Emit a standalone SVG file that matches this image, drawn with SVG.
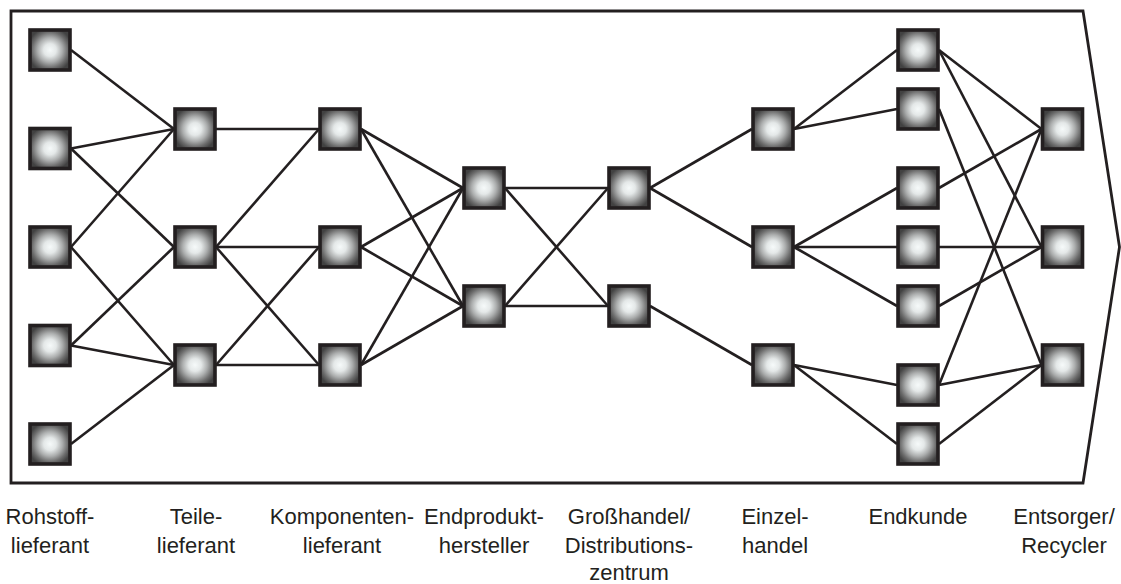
<svg xmlns="http://www.w3.org/2000/svg" xmlns:xlink="http://www.w3.org/1999/xlink" width="1121" height="584" viewBox="0 0 1121 584">
<style>
.frame{fill:none;stroke:#231f20;stroke-width:2.8;stroke-linejoin:miter}
.conn line{stroke:#231f20;stroke-width:2.6;stroke-linecap:butt}
.lbl{font-family:"Liberation Sans",Arial,Helvetica,sans-serif;font-size:22px;fill:#231f20;text-anchor:middle}
</style>
<defs>
<radialGradient id="gGlow" cx="0.5" cy="0.5" r="0.56">
<stop offset="0" stop-color="#f6fafa"/>
<stop offset="0.28" stop-color="#e4e8e8"/>
<stop offset="0.55" stop-color="#acaeae"/>
<stop offset="0.8" stop-color="#6c6c6c"/>
<stop offset="1" stop-color="#424242"/>
</radialGradient>
<g id="box">
<rect x="-20" y="-20" width="40" height="40" fill="url(#gGlow)" stroke="#231f20" stroke-width="3.6"/>
</g>
</defs>
<rect width="1121" height="584" fill="#ffffff"/>
<path class="frame" d="M11,11H1083L1119.5,247L1083,483H11Z"/>
<g id="connectors" class="conn">
<line x1="71" y1="50" x2="174" y2="129"/>
<line x1="71" y1="148.5" x2="174" y2="129"/>
<line x1="71" y1="148.5" x2="174" y2="247"/>
<line x1="71" y1="247" x2="174" y2="129"/>
<line x1="71" y1="247" x2="174" y2="365"/>
<line x1="71" y1="345.5" x2="174" y2="247"/>
<line x1="71" y1="345.5" x2="174" y2="365"/>
<line x1="71" y1="444" x2="174" y2="365"/>
<line x1="216" y1="129" x2="319" y2="129"/>
<line x1="216" y1="247" x2="319" y2="129"/>
<line x1="216" y1="247" x2="319" y2="247"/>
<line x1="216" y1="247" x2="319" y2="365"/>
<line x1="216" y1="365" x2="319" y2="247"/>
<line x1="216" y1="365" x2="319" y2="365"/>
<line x1="361" y1="129" x2="463" y2="188"/>
<line x1="361" y1="129" x2="463" y2="306"/>
<line x1="361" y1="247" x2="463" y2="188"/>
<line x1="361" y1="247" x2="463" y2="306"/>
<line x1="361" y1="365" x2="463" y2="188"/>
<line x1="361" y1="365" x2="463" y2="306"/>
<line x1="505" y1="188" x2="608" y2="188"/>
<line x1="505" y1="188" x2="608" y2="306"/>
<line x1="505" y1="306" x2="608" y2="188"/>
<line x1="505" y1="306" x2="608" y2="306"/>
<line x1="650" y1="188" x2="752" y2="129"/>
<line x1="650" y1="188" x2="752" y2="247"/>
<line x1="650" y1="306" x2="752" y2="365"/>
<line x1="794" y1="129" x2="897" y2="50"/>
<line x1="794" y1="129" x2="897" y2="109"/>
<line x1="794" y1="247" x2="897" y2="188"/>
<line x1="794" y1="247" x2="897" y2="247"/>
<line x1="794" y1="247" x2="897" y2="306"/>
<line x1="794" y1="365" x2="897" y2="385"/>
<line x1="794" y1="365" x2="897" y2="444"/>
<line x1="939" y1="50" x2="1041.5" y2="129"/>
<line x1="939" y1="50" x2="1041.5" y2="247"/>
<line x1="939" y1="109" x2="1041.5" y2="365"/>
<line x1="939" y1="188" x2="1041.5" y2="129"/>
<line x1="939" y1="247" x2="1041.5" y2="247"/>
<line x1="939" y1="306" x2="1041.5" y2="247"/>
<line x1="939" y1="385" x2="1041.5" y2="129"/>
<line x1="939" y1="385" x2="1041.5" y2="365"/>
<line x1="939" y1="444" x2="1041.5" y2="365"/>
</g>
<g id="n-rohstoff-1"><use xlink:href="#box" href="#box" x="50" y="50"/></g>
<g id="n-rohstoff-2"><use xlink:href="#box" href="#box" x="50" y="148.5"/></g>
<g id="n-rohstoff-3"><use xlink:href="#box" href="#box" x="50" y="247"/></g>
<g id="n-rohstoff-4"><use xlink:href="#box" href="#box" x="50" y="345.5"/></g>
<g id="n-rohstoff-5"><use xlink:href="#box" href="#box" x="50" y="444"/></g>
<g id="n-teile-1"><use xlink:href="#box" href="#box" x="195" y="129"/></g>
<g id="n-teile-2"><use xlink:href="#box" href="#box" x="195" y="247"/></g>
<g id="n-teile-3"><use xlink:href="#box" href="#box" x="195" y="365"/></g>
<g id="n-komp-1"><use xlink:href="#box" href="#box" x="340" y="129"/></g>
<g id="n-komp-2"><use xlink:href="#box" href="#box" x="340" y="247"/></g>
<g id="n-komp-3"><use xlink:href="#box" href="#box" x="340" y="365"/></g>
<g id="n-endprodukt-1"><use xlink:href="#box" href="#box" x="484" y="188"/></g>
<g id="n-endprodukt-2"><use xlink:href="#box" href="#box" x="484" y="306"/></g>
<g id="n-gross-1"><use xlink:href="#box" href="#box" x="629" y="188"/></g>
<g id="n-gross-2"><use xlink:href="#box" href="#box" x="629" y="306"/></g>
<g id="n-einzel-1"><use xlink:href="#box" href="#box" x="773" y="129"/></g>
<g id="n-einzel-2"><use xlink:href="#box" href="#box" x="773" y="247"/></g>
<g id="n-einzel-3"><use xlink:href="#box" href="#box" x="773" y="365"/></g>
<g id="n-endkunde-1"><use xlink:href="#box" href="#box" x="918" y="50"/></g>
<g id="n-endkunde-2"><use xlink:href="#box" href="#box" x="918" y="109"/></g>
<g id="n-endkunde-3"><use xlink:href="#box" href="#box" x="918" y="188"/></g>
<g id="n-endkunde-4"><use xlink:href="#box" href="#box" x="918" y="247"/></g>
<g id="n-endkunde-5"><use xlink:href="#box" href="#box" x="918" y="306"/></g>
<g id="n-endkunde-6"><use xlink:href="#box" href="#box" x="918" y="385"/></g>
<g id="n-endkunde-7"><use xlink:href="#box" href="#box" x="918" y="444"/></g>
<g id="n-entsorger-1"><use xlink:href="#box" href="#box" x="1062.5" y="129"/></g>
<g id="n-entsorger-2"><use xlink:href="#box" href="#box" x="1062.5" y="247"/></g>
<g id="n-entsorger-3"><use xlink:href="#box" href="#box" x="1062.5" y="365"/></g>
<g id="labels">
<text class="lbl" x="50" y="524">Rohstoff-<tspan x="50" y="553">lieferant</tspan></text>
<text class="lbl" x="196" y="524">Teile-<tspan x="196" y="553">lieferant</tspan></text>
<text class="lbl" x="342" y="524">Komponenten-<tspan x="342" y="553">lieferant</tspan></text>
<text class="lbl" x="484" y="524">Endprodukt-<tspan x="484" y="553">hersteller</tspan></text>
<text class="lbl" x="629" y="524">Großhandel/<tspan x="629" y="553">Distributions-</tspan><tspan x="629" y="580">zentrum</tspan></text>
<text class="lbl" x="775" y="524">Einzel-<tspan x="775" y="553">handel</tspan></text>
<text class="lbl" x="918" y="524">Endkunde</text>
<text class="lbl" x="1064" y="524">Entsorger/<tspan x="1064" y="553">Recycler</tspan></text>
</g>
</svg>
